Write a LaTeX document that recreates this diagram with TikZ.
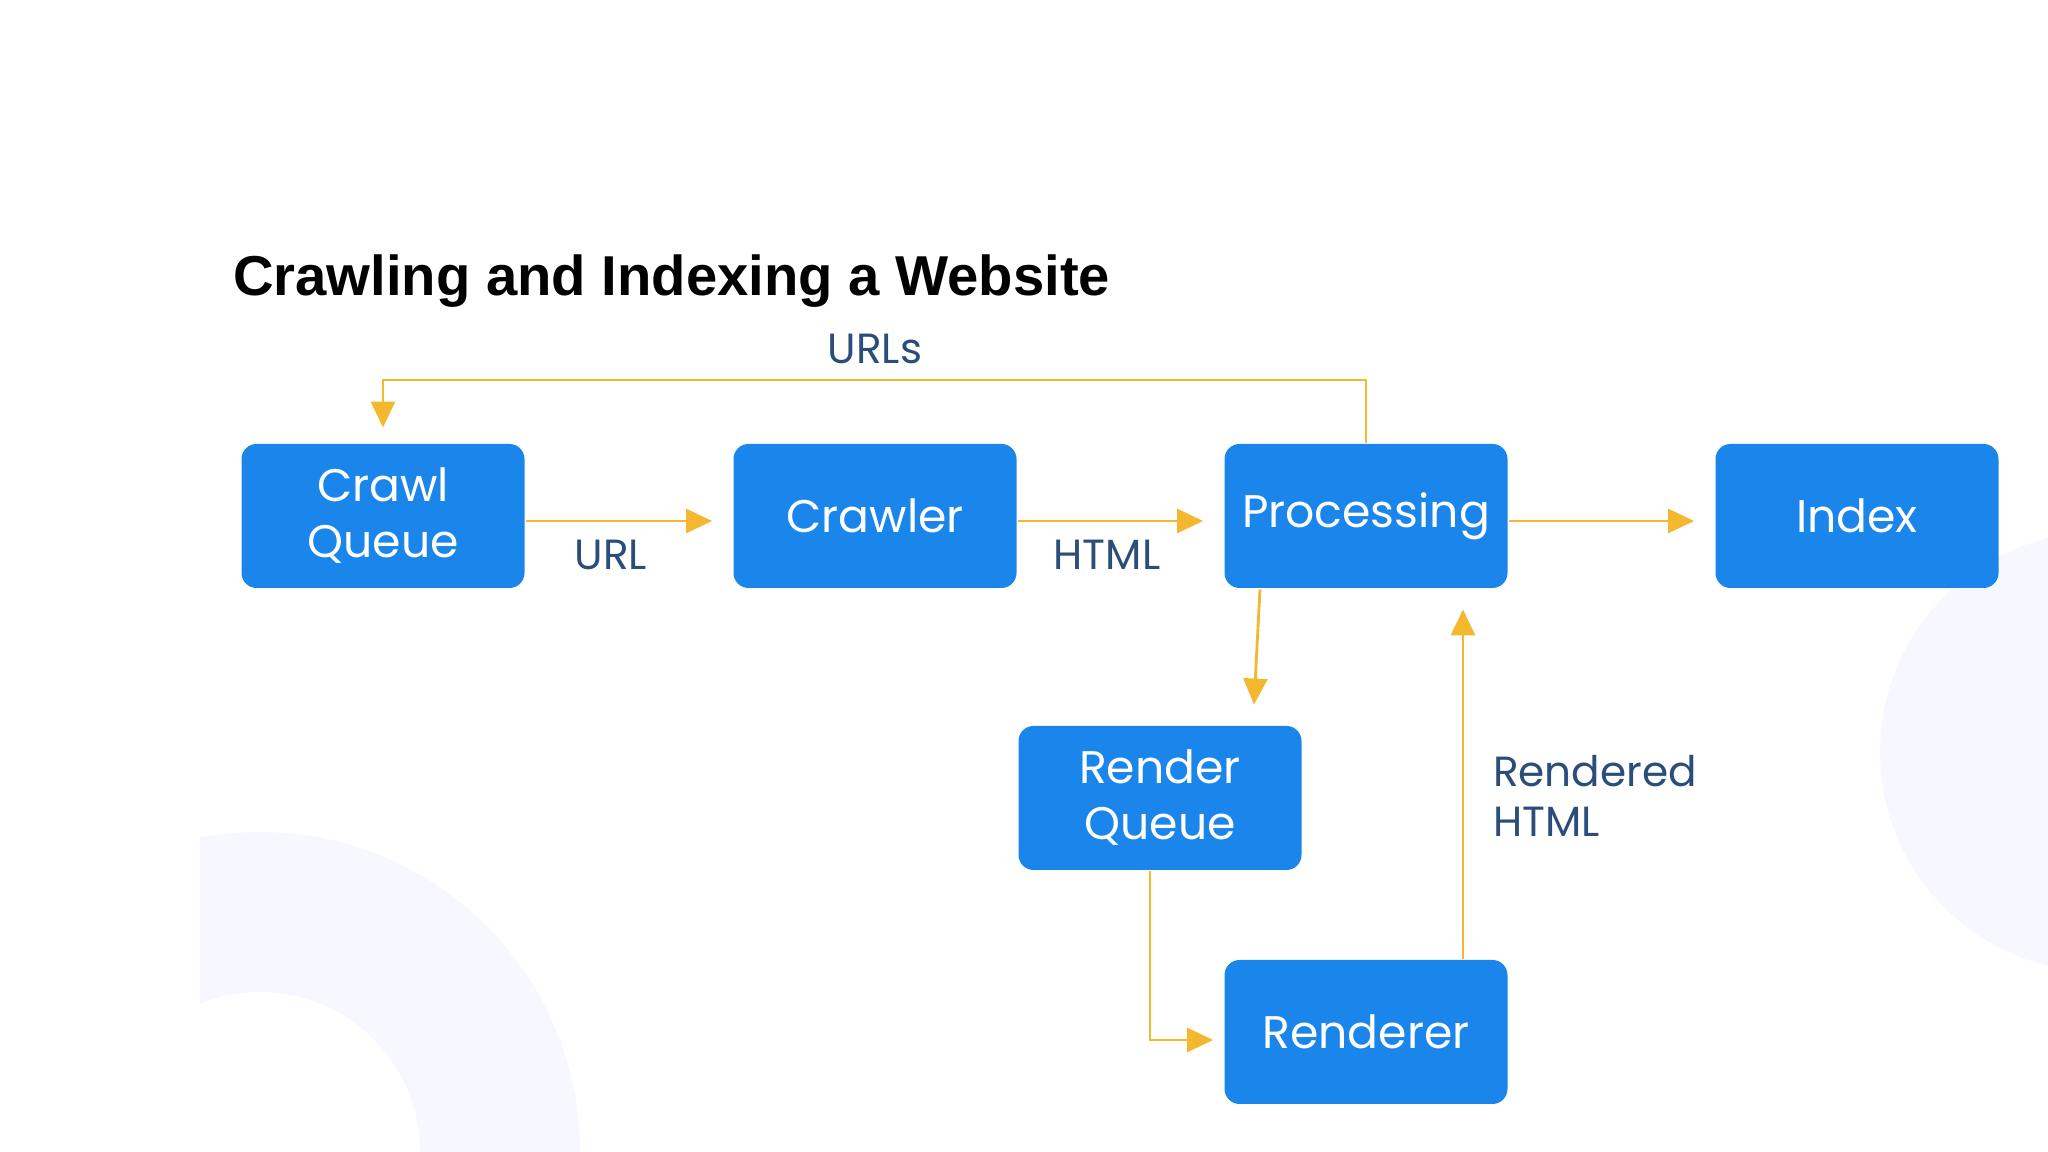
\documentclass[tikz,border=0pt]{standalone}
\usepackage{fontspec}
\setmainfont{Liberation Sans}
\newfontfamily\boxfont{Poppins}
\usetikzlibrary{
	arrows.meta,
	positioning,
	calc,
}
\definecolor{boxblue}{HTML}{1A86EC}
\definecolor{arrowgold}{HTML}{F3B830}
\definecolor{labelblue}{HTML}{2A4D7A}

\begin{document}
\begin{tikzpicture}[
	>= {Triangle[length=2.6mm,width=2.4mm]},thick,arrowgold,
	text=black,
	box/.style={draw=none,fill=boxblue,rounded corners=1.5mm,minimum width=2.83cm,
		minimum height=1.44cm,text=white,align=center,font=\boxfont\fontsize{13}{16}\selectfont},
	lbl/.style={text=labelblue,font=\boxfont\fontsize{12}{14}\selectfont},
	]
	\useasboundingbox (0,0) rectangle (20.48,11.52);
	
	%% background
	\fill[blue!3] (21.0,4.0) circle (2.2cm);
	\begin{scope}
		\clip (2.0,0) rectangle (20.48,11.52);
		\fill[blue!3] (2.6,0) circle (3.2cm);
		\fill[white] (2.6,0) circle (1.6cm);
	\end{scope}
	
	%% title
	\node[anchor=west,font=\bfseries\fontsize{16}{19}\selectfont] (title) at (2.2,8.71) {Crawling and Indexing a Website};
	
	%% line 1
	\node[box] (CQ) at (3.83,6.36) {Crawl\\Queue};
	\node[box] (CR) at (8.75,6.36) {Crawler};
	\node[box] (PR) at (13.66,6.36) {Processing};
	\node[box] (IX) at (18.57,6.36) {Index};
	
	%% line 2
	\node[box] (RQ) at (11.60,3.54) {Render\\Queue};
	
	%% line 3
	\node[box] (RE) at (13.66,1.20) {Renderer};
	
	%% labels
	\node[lbl] (urls) at (8.75,8.03) {URLs};
	\node[lbl] (url) at (6.11,5.97) {URL};
	\node[lbl] (html) at (11.07,5.97) {HTML};
	\node[lbl,anchor=west,align=left] (rhtml) at (14.80,3.56) {Rendered\\HTML};
	
	%% connectors
	\draw[->] (PR.north) |- (3.83,7.72) -- ([yshift=1.5mm]CQ.north);
	\draw[->] ([yshift=-0.5mm]CQ.east) -- ([xshift=-2mm,yshift=-0.5mm]CR.west);
	\draw[->] ([yshift=-0.5mm]CR.east) -- ([xshift=-2mm,yshift=-0.5mm]PR.west);
	\draw[->] ([yshift=-0.5mm]PR.east) -- ([xshift=-2mm,yshift=-0.5mm]IX.west);
	\draw[->] ([xshift=-1.06cm]PR.south) -- ([xshift=0.94cm,yshift=2mm]RQ.north);
	\draw[->] ([xshift=-0.1cm]RQ.south) |- ([xshift=-1mm,yshift=-0.8mm]RE.west);
	\draw[->] ([xshift=0.97cm]RE.north) -- ([xshift=0.97cm,yshift=-2mm]PR.south);
	
\end{tikzpicture}
\end{document}
